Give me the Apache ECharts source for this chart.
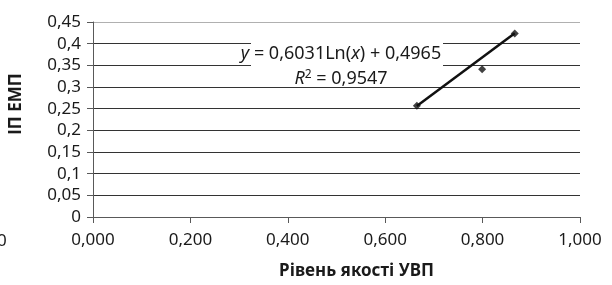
<!DOCTYPE html>
<html>
<head>
<meta charset="utf-8">
<script src="https://cdn.jsdelivr.net/npm/echarts@6/dist/echarts.min.js"></script>
<style>
	html, body { margin: 0; padding: 0; background: #fff; }
	#grafica { width: 612px; height: 285px; }
</style>
</head>
<body>
<div id="grafica"></div>
<script>
// Data
let puntosX = [0.665, 0.799, 0.866];
let puntosY = [0.257, 0.341, 0.4235];

// trend line ends, as drawn
let tendenciaX = [0.665, 0.866];
let tendenciaY = [0.256, 0.424];

let xTickLabels = ['0,000', '0,200', '0,400', '0,600', '0,800', '1,000'];
let yTickLabels = ['0', '0,05', '0,1', '0,15', '0,2', '0,25', '0,3', '0,35', '0,4', '0,45'];

let nombreX = 'Рівень якості УВП';
let nombreY = 'ІП ЕМП';

function graficar() {
	var chart = echarts.init(document.getElementById('grafica'));

	var fuente = '"Noto Sans", sans-serif';

	var option = {
		animation: false,
		textStyle: {
			fontFamily: fuente
		},
		grid: {
			left: 90,
			right: 32,
			top: 22,
			bottom: 63,
			containLabel: false
		},
		xAxis: {
			type: 'value',
			min: 0,
			max: 1,
			interval: 0.2,
			name: nombreX,
			nameLocation: 'middle',
			nameGap: 46,
			nameTextStyle: {
				fontFamily: fuente,
				fontWeight: 'bold',
				fontSize: 17,
				color: '#1a1a1a',
				padding: [0, 0, 0, 40]
			},
			axisLine: { show: true, lineStyle: { color: '#595959', width: 1 } },
			axisTick: { show: true, length: 6, lineStyle: { color: '#595959' } },
			axisLabel: {
				fontSize: 17,
				color: '#1a1a1a',
				margin: 15,
				formatter: function (v) {
					return xTickLabels[Math.round(v / 0.2)];
				}
			},
			splitLine: { show: false }
		},
		yAxis: {
			type: 'value',
			min: 0,
			max: 0.45,
			interval: 0.05,
			name: nombreY,
			nameLocation: 'middle',
			nameGap: 68,
			nameRotate: 90,
			nameTextStyle: {
				fontFamily: fuente,
				fontWeight: 'bold',
				fontSize: 17,
				color: '#1a1a1a',
				padding: [0, 0, 0, 31]
			},
			axisLine: { show: true, lineStyle: { color: '#595959', width: 1 } },
			axisTick: { show: true, length: 6, lineStyle: { color: '#595959' } },
			axisLabel: {
				fontSize: 17,
				color: '#1a1a1a',
				margin: 12,
				formatter: function (v) {
					return yTickLabels[Math.round(v / 0.05)];
				}
			},
			splitLine: {
				show: true,
				lineStyle: {
					color: ['#333', '#333', '#333', '#333', '#333',
						'#333', '#333', '#333', '#333', '#b0b0b0'],
					width: 1
				}
			}
		},
		graphic: [
			{
				type: 'rect',
				left: 251,
				top: 38,
				shape: { width: 192, height: 48 },
				style: { fill: '#fff' },
				z: 10
			},
			{
				type: 'text',
				x: 341,
				y: 54,
				z: 11,
				style: {
					text: '{i|y} = 0,6031Ln({i|x}) + 0,4965',
					align: 'center',
					verticalAlign: 'middle',
					fontFamily: fuente,
					fontSize: 18,
					fill: '#1a1a1a',
					rich: {
						i: { fontStyle: 'italic', fontFamily: fuente, fontSize: 18, fill: '#1a1a1a' }
					}
				}
			},
			{
				type: 'text',
				x: 341,
				y: 79,
				z: 11,
				style: {
					text: '{i|R}{s|2} = 0,9547',
					align: 'center',
					verticalAlign: 'middle',
					fontFamily: fuente,
					fontSize: 18,
					fill: '#1a1a1a',
					rich: {
						i: { fontStyle: 'italic', fontFamily: fuente, fontSize: 18, fill: '#1a1a1a' },
						s: { fontFamily: fuente, fontSize: 12, fill: '#1a1a1a', verticalAlign: 'top', padding: [0, 0, 8, 0] }
					}
				}
			},
			{
				type: 'text',
				left: -3,
				top: 233,
				style: {
					text: '0',
					fontFamily: fuente,
					fontSize: 17,
					fill: '#1a1a1a'
				}
			}
		],
		series: [
			{
				name: 'tendencia',
				type: 'line',
				data: tendenciaX.map(function (x, i) { return [x, tendenciaY[i]]; }),
				showSymbol: false,
				symbol: 'none',
				lineStyle: { color: '#111', width: 2.5 },
				z: 20
			},
			{
				name: 'puntos',
				type: 'scatter',
				data: puntosX.map(function (x, i) { return [x, puntosY[i]]; }),
				symbol: 'diamond',
				symbolSize: 8,
				itemStyle: { color: '#111' },
				z: 21
			}
		]
	};

	chart.setOption(option);
}

graficar();
</script>
</body>
</html>
